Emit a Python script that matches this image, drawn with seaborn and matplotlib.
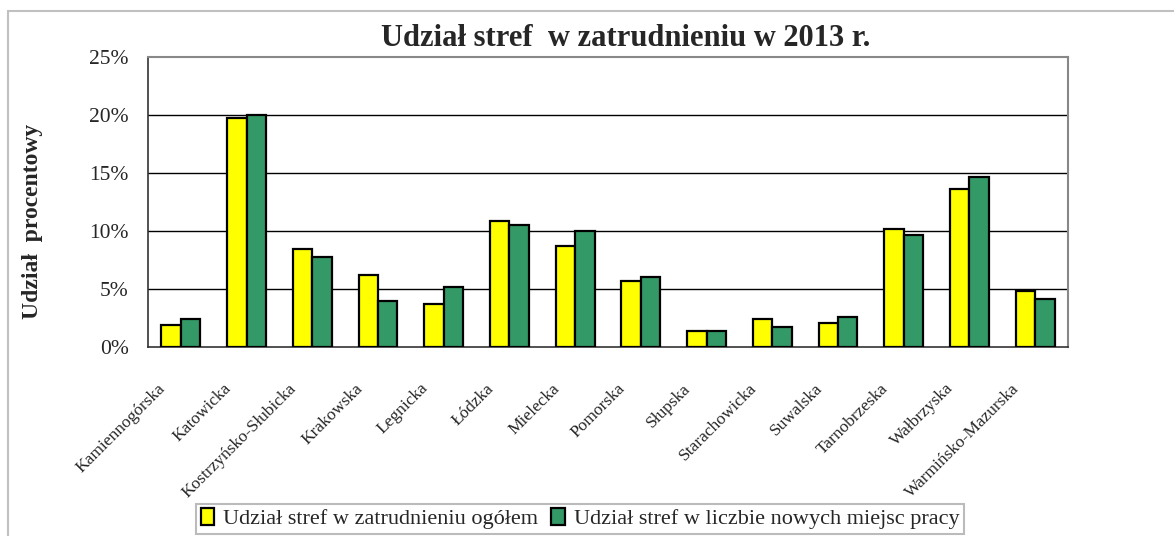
import pandas as pd
import matplotlib
matplotlib.use("Agg")
import matplotlib.pyplot as plt
import seaborn as sns
from matplotlib.ticker import FuncFormatter, FixedLocator

# === dane ===
strefy = ['Kamiennogórska', 'Katowicka', 'Kostrzyńsko-Słubicka', 'Krakowska', 'Legnicka',
          'Łódzka', 'Mielecka', 'Pomorska', 'Słupska', 'Starachowicka', 'Suwalska',
          'Tarnobrzeska', 'Wałbrzyska', 'Warmińsko-Mazurska']
zatrudnienie = [1.9, 19.7, 8.45, 6.2, 3.75, 10.85, 8.75, 5.7, 1.35, 2.4, 2.05, 10.15, 13.6, 4.8]
nowe_miejsca = [2.4, 20.0, 7.75, 3.95, 5.15, 10.5, 10.0, 6.05, 1.35, 1.7, 2.55, 9.65, 14.65, 4.1]
serie = ['Udział stref w zatrudnieniu ogółem', 'Udział stref w liczbie nowych miejsc pracy']

df = pd.DataFrame({
    'Strefa': strefy * 2,
    'Udzial': zatrudnienie + nowe_miejsca,
    'Seria': [serie[0]] * len(strefy) + [serie[1]] * len(strefy),
})

sns.set_style("white")
plt.rcParams['font.family'] = ['Liberation Serif', 'DejaVu Serif']

fig = plt.figure(figsize=(11.74, 5.36), dpi=100)
ax = fig.add_axes([148 / 1174, 1 - 347 / 536, 920 / 1174, 290 / 536])

sns.barplot(data=df, x='Strefa', y='Udzial', hue='Seria', palette=['#FFFF00', '#339966'],
            saturation=1, edgecolor='black', linewidth=1.6, width=0.59, ax=ax, zorder=3)

ax.set_ylim(0, 25)
ax.set_xlim(-0.5, len(strefy) - 0.5)
ax.set_yticks([0, 5, 10, 15, 20, 25])
ax.yaxis.set_major_formatter(FuncFormatter(lambda v, p: f"{v:.0f}%"))
for y in [5, 10, 15, 20]:
    ax.axhline(y, color='black', lw=1, zorder=1)

# podpisy nieco w lewo od środka kategorii (jak w Excelu)
ax.set_xticks([i - 0.36 for i in range(len(strefy))])
ax.set_xticklabels(strefy, rotation=45, ha='right', rotation_mode='anchor', fontsize=12.5)
ax.xaxis.set_minor_locator(FixedLocator([i - 0.5 for i in range(len(strefy) + 1)]))
ax.tick_params(axis='x', which='major', length=0, pad=24)
ax.tick_params(axis='x', which='minor', length=5, width=1, color='#333333', direction='out')
ax.tick_params(axis='y', length=6, width=1, color='#333333', direction='out', labelsize=15.5, pad=8)

ax.set_xlabel('')
ax.set_ylabel('')
fig.text(33 / 1174, 1 - 221 / 536, 'Udział  procentowy', rotation=90, ha='center', va='center',
         fontsize=17, fontweight='bold')

for s in ['left', 'bottom']:
    ax.spines[s].set_color('#333333')
    ax.spines[s].set_linewidth(1.2)
for s in ['top', 'right']:
    ax.spines[s].set_color('#888888')
    ax.spines[s].set_linewidth(1.5)

handles, labels = ax.get_legend_handles_labels()
ax.get_legend().remove()
leg = fig.legend(handles, labels, loc='lower center', bbox_to_anchor=(580 / 1174, 0.0), ncol=2,
                 fontsize=16, frameon=True, fancybox=False, edgecolor='#aaaaaa',
                 handlelength=0.6, handleheight=0.75, handletextpad=0.4, columnspacing=0.6,
                 borderpad=0.2, borderaxespad=0.1)
leg.get_frame().set_linewidth(1.5)

fig.text(626 / 1174, 1 - 39 / 536, 'Udział stref  w zatrudnieniu w 2013 r.', ha='center', va='center',
         fontsize=22, fontweight='bold')

# ramka wykresu
fig.patches.append(plt.Rectangle((8 / 1174, -0.1), 1.2, 1 - 11 / 536 + 0.1, transform=fig.transFigure,
                                 fill=False, edgecolor='#c0c0c0', lw=1.5))

plt.savefig("out.png", dpi=100)
